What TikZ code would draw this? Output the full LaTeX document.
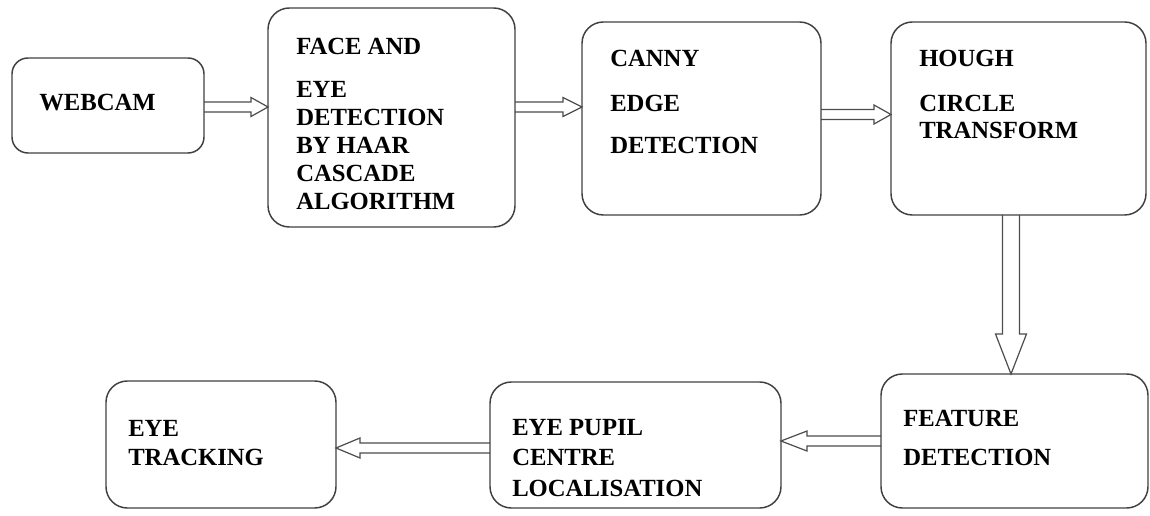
\documentclass[tikz,border=0pt]{standalone}
\usepackage{fontspec}
\setmainfont{Liberation Serif}[BoldFont={Liberation Serif Bold}]
\newfontfamily\tnrbold{Liberation Serif Bold}
\usetikzlibrary{calc}
\begin{document}
\begin{tikzpicture}[x=0.75pt,y=-0.75pt,
  box/.style={draw=black!75,line width=1.1pt,rounded corners=16pt,inner sep=0pt,outer sep=0pt},
  txt/.style={anchor=west,inner sep=0pt,font=\tnrbold\fontsize{18.5}{20}\selectfont},
  arr/.style={draw=black!70,line width=0.9pt,line join=miter}]
\useasboundingbox (0,0) rectangle (1150,516);
% boxes
\node[box,minimum width=144pt,minimum height=71.25pt,rounded corners=12pt] (webcam) at (108,105.5) {};
\node[box,minimum width=185.25pt,minimum height=164.25pt] (face) at (391.5,117.5) {};
\node[box,minimum width=179.25pt,minimum height=144.75pt] (canny) at (701.5,118.5) {};
\node[box,minimum width=191.25pt,minimum height=144.75pt] (hough) at (1018.5,118.5) {};
\node[box,minimum width=200.25pt,minimum height=100.5pt] (feature) at (1014.5,441) {};
\node[box,minimum width=218.25pt,minimum height=94.5pt] (pupil) at (635.5,445) {};
\node[box,minimum width=172.5pt,minimum height=95.25pt] (tracking) at (221,444.5) {};
% texts
\node[txt] (t-webcam) at (39,103) {WEBCAM};
\node[txt] (t-face1) at (296,46) {FACE AND};
\node[txt] (t-face2) at (296,89) {EYE};
\node[txt] (t-face3) at (296,117) {DETECTION};
\node[txt] (t-face4) at (296,145) {BY HAAR};
\node[txt] (t-face5) at (296,173) {CASCADE};
\node[txt] (t-face6) at (296,201) {ALGORITHM};
\node[txt] (t-canny1) at (610,58) {CANNY};
\node[txt] (t-canny2) at (610,103) {EDGE};
\node[txt] (t-canny3) at (610,145) {DETECTION};
\node[txt] (t-hough1) at (919,58) {HOUGH};
\node[txt] (t-hough2) at (919,103) {CIRCLE};
\node[txt] (t-hough3) at (919,130) {TRANSFORM};
\node[txt] (t-feat1) at (903,418) {FEATURE};
\node[txt] (t-feat2) at (903,457) {DETECTION};
\node[txt] (t-pupil1) at (512,428) {EYE PUPIL};
\node[txt] (t-pupil2) at (512,457) {CENTRE};
\node[txt] (t-pupil3) at (512,488) {LOCALISATION};
\node[txt] (t-track1) at (128,428) {EYE};
\node[txt] (t-track2) at (128,457) {TRACKING};
% arrows
\draw[arr] (webcam.east |- 0,102) -- ($(face.west |- 0,102)+(-17,0)$) -- ($(face.west |- 0,97.5)+(-17,0)$)
  -- (face.west |- 0,107) -- ($(face.west |- 0,116.5)+(-17,0)$) -- ($(face.west |- 0,112)+(-17,0)$) -- (webcam.east |- 0,112);
\draw[arr] (face.east |- 0,102) -- ($(canny.west |- 0,102)+(-19,0)$) -- ($(canny.west |- 0,97.5)+(-19,0)$)
  -- (canny.west |- 0,107) -- ($(canny.west |- 0,116.5)+(-19,0)$) -- ($(canny.west |- 0,112)+(-19,0)$) -- (face.east |- 0,112);
\draw[arr] (canny.east |- 0,109.5) -- ($(hough.west |- 0,109.5)+(-17,0)$) -- ($(hough.west |- 0,105)+(-17,0)$)
  -- (hough.west |- 0,114.5) -- ($(hough.west |- 0,124)+(-17,0)$) -- ($(hough.west |- 0,119.5)+(-17,0)$) -- (canny.east |- 0,119.5);
\draw[arr] (1002.5,0 |- hough.south) -- ($(1002.5,0 |- feature.north)+(0,-40)$) -- ($(995.5,0 |- feature.north)+(0,-40)$)
  -- (1011,0 |- feature.north) -- ($(1026.5,0 |- feature.north)+(0,-40)$) -- ($(1019.5,0 |- feature.north)+(0,-40)$) -- (1019.5,0 |- hough.south);
\draw[arr] (feature.west |- 0,436) -- ($(pupil.east |- 0,436)+(26,0)$) -- ($(pupil.east |- 0,431)+(26,0)$)
  -- (pupil.east |- 0,441) -- ($(pupil.east |- 0,451)+(26,0)$) -- ($(pupil.east |- 0,446)+(26,0)$) -- (feature.west |- 0,446);
\draw[arr] (pupil.west |- 0,443) -- ($(tracking.east |- 0,443)+(24,0)$) -- ($(tracking.east |- 0,438)+(24,0)$)
  -- (tracking.east |- 0,448) -- ($(tracking.east |- 0,458)+(24,0)$) -- ($(tracking.east |- 0,453)+(24,0)$) -- (pupil.west |- 0,453);
\end{tikzpicture}
\end{document}
